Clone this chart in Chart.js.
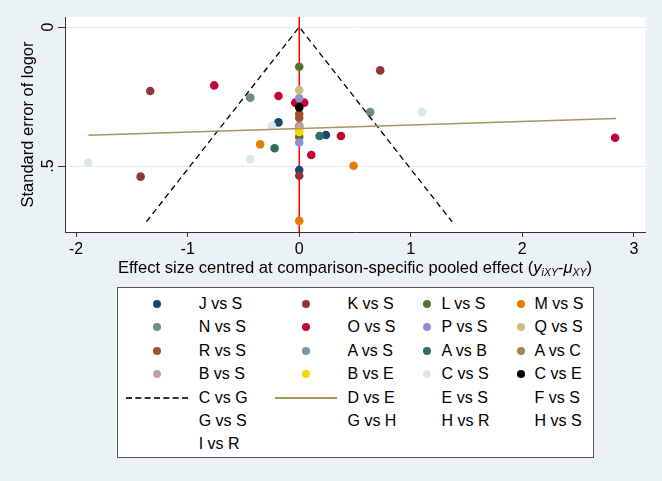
<!DOCTYPE html>
<html>
<head>
<meta charset="utf-8">
<title>Comparison-adjusted funnel plot</title>
<script src="https://cdn.jsdelivr.net/npm/chart.js@4.4.1/dist/chart.umd.min.js"></script>
<style>
  html, body { margin: 0; padding: 0; background: #eaf2f3; }
  #wrap { position: relative; width: 662px; height: 481px; background: #eaf2f3; font-family: "Liberation Sans", Arial, sans-serif; }
  #wrap canvas { position: absolute; left: 0; top: 0; }
  #legend { position: absolute; left: 117px; top: 287px; width: 477px; height: 171px; background: #fff; border: 1px solid #555; box-sizing: border-box; }
  .lab { position: absolute; font-size: 16px; line-height: 18px; color: #000; white-space: nowrap; }
  .dot { position: absolute; width: 8px; height: 8px; border-radius: 50%; }
  .key { position: absolute; height: 0; }
</style>
</head>
<body>
<div id="wrap">
  <canvas id="chartFunnel" width="662" height="481"></canvas>
  <div id="legend"></div>
</div>
<script>
"use strict";

var FONT = "'Liberation Sans', Arial, sans-serif";

// axis ticks / limits
var xTicks = [-2, -1, 0, 1, 2, 3];
var yTicks = [0, 0.5];
var xMin = -2.1, xMax = 3.1;
var seMin = -0.036, seMax = 0.737;

// points: [effect centred, standard error]
var ptsJS = [[-0.186, 0.343], [0.239, 0.388], [0, 0.514]];
var ptsKS = [[-1.336, 0.230], [0.726, 0.156], [0, 0.535], [-1.422, 0.538]];
var ptsLS = [[0, 0.143], [0, 0.395]];
var ptsMS = [[-0.350, 0.422], [0.487, 0.499], [0, 0.697]];
var ptsNS = [[-0.439, 0.254], [0.636, 0.306]];
var ptsOS = [[-0.762, 0.210], [-0.186, 0.248], [-0.036, 0.272], [0.045, 0.272], [0.374, 0.392], [0.108, 0.460], [2.832, 0.398]];
var ptsPS = [[0, 0.256], [0, 0.415]];
var ptsQS = [[0, 0.227]];
var ptsRS = [[0, 0.313], [0, 0.327]];
var ptsAS = [[0, 0.355]];
var ptsAB = [[0.182, 0.392], [-0.221, 0.436]];
var ptsAC = [[0, 0.365]];
var ptsBS = [[0, 0.360]];
var ptsBE = [[0, 0.377]];
var ptsCS = [[-0.245, 0.355], [-0.439, 0.475], [-1.891, 0.487], [1.100, 0.306]];
var ptsCE = [[0, 0.289]];

// pseudo 95% limits and fitted line
var funnelX = [-1.37, 0, 1.37];
var funnelSE = [0.70, 0, 0.70];
var fitX = [-1.89, 2.84];
var fitSE = [0.389, 0.329];

var names = ["J vs S", "K vs S", "L vs S", "M vs S", "N vs S", "O vs S", "P vs S", "Q vs S",
  "R vs S", "A vs S", "A vs B", "A vs C", "B vs S", "B vs E", "C vs S", "C vs E",
  "C vs G", "D vs E", "E vs S", "F vs S", "G vs S", "G vs H", "H vs R", "H vs S", "I vs R"];
var series = [ptsJS, ptsKS, ptsLS, ptsMS, ptsNS, ptsOS, ptsPS, ptsQS,
  ptsRS, ptsAS, ptsAB, ptsAC, ptsBS, ptsBE, ptsCS, ptsCE];
var colors = ["#1a476f", "#90353b", "#55752f", "#e37e00", "#6e8e84", "#c10534", "#938dd2", "#cac27e",
  "#a0522d", "#7b92a8", "#2d6d66", "#9c8847", "#bfa19c", "#ffd200", "#d9e6eb", "#000000"];
var FIT_COLOR = "#a8955a";

function toXY(xs, ys) {
  return xs.map(function (x, i) { return { x: x, y: ys[i] }; });
}

var datasets = [];
datasets.push({
  label: "zero", data: [{ x: 0, y: seMin }, { x: 0, y: seMax }],
  showLine: true, borderColor: "#ff0000", borderWidth: 1.5, pointRadius: 0, order: 100
});
series.forEach(function (pts, i) {
  datasets.push({
    label: names[i],
    data: pts.map(function (p) { return { x: p[0], y: p[1] }; }),
    backgroundColor: colors[i], borderWidth: 0, pointRadius: 4.3, order: 50 - i
  });
});
datasets.push({
  label: names[16], data: toXY(funnelX, funnelSE),
  showLine: true, borderColor: "#000", borderWidth: 1.3, borderDash: [6, 4], pointRadius: 0, order: 2
});
datasets.push({
  label: names[17], data: toXY(fitX, fitSE),
  showLine: true, borderColor: FIT_COLOR, borderWidth: 1.5, pointRadius: 0, order: 1
});

// white plot region
var plotBg = {
  id: "plotBg",
  beforeDraw: function (chart) {
    var a = chart.chartArea, ctx = chart.ctx;
    ctx.save();
    ctx.fillStyle = "#fff";
    ctx.fillRect(a.left, a.top, a.right - a.left, a.bottom - a.top);
    ctx.restore();
  }
};

// x title with subscripts
var xTitleParts = [
  { t: "Effect size centred at comparison-specific pooled effect (", f: "16.6px", dy: 0 },
  { t: "y", f: "italic 16.6px", dy: 0 },
  { t: "iXY", f: "italic 10.5px", dy: 3 },
  { t: "-", f: "16.6px", dy: 0 },
  { t: "\u03bc", f: "italic 16.6px", dy: 0 },
  { t: "XY", f: "italic 10.5px", dy: 3 },
  { t: ")", f: "16.6px", dy: 0 }
];
var xTitle = {
  id: "xTitle",
  afterDraw: function (chart) {
    var ctx = chart.ctx, a = chart.chartArea;
    ctx.save();
    ctx.fillStyle = "#000";
    ctx.textBaseline = "alphabetic";
    var total = 0;
    xTitleParts.forEach(function (p) { ctx.font = p.f + " " + FONT; p.w = ctx.measureText(p.t).width; total += p.w; });
    var x = (a.left + a.right) / 2 - total / 2;
    var base = a.bottom + 41;
    xTitleParts.forEach(function (p) {
      ctx.font = p.f + " " + FONT;
      ctx.fillText(p.t, x, base + p.dy);
      x += p.w;
    });
    ctx.restore();
  }
};

new Chart(document.getElementById("chartFunnel"), {
  type: "scatter",
  data: { datasets: datasets },
  options: {
    responsive: false, animation: false,
    layout: { padding: { top: 17, right: 17, bottom: 196, left: 0 } },
    plugins: { legend: { display: false }, tooltip: { enabled: false } },
    scales: {
      x: {
        type: "linear", min: xMin, max: xMax,
        afterBuildTicks: function (s) { s.ticks = xTicks.map(function (v) { return { value: v }; }); },
        afterFit: function (s) { s.height = 53; },
        grid: { drawOnChartArea: false, drawTicks: true, tickLength: 5, tickColor: "#333", tickWidth: 1 },
        border: { color: "#333", width: 1 },
        ticks: { color: "#000", font: { size: 16, family: FONT }, padding: 3, maxRotation: 0, minRotation: 0 }
      },
      y: {
        type: "linear", reverse: true, min: seMin, max: seMax,
        afterBuildTicks: function (s) { s.ticks = yTicks.map(function (v) { return { value: v }; }); },
        afterFit: function (s) { s.width = 65; },
        grid: { color: "#e4eef0", lineWidth: 1, drawTicks: true, tickLength: 7, tickColor: "#333", tickWidth: 1 },
        border: { color: "#333", width: 1 },
        ticks: {
          color: "#000", font: { size: 16, family: FONT }, padding: 3,
          minRotation: 90, maxRotation: 90, crossAlign: "center",
          callback: function (v) { return v === 0 ? "0" : String(v).replace(/^0/, ""); }
        },
        title: {
          display: true, text: "Standard error of logor", color: "#000",
          font: { size: 16.5, family: FONT }, padding: { top: 19, bottom: 0 }
        }
      }
    }
  },
  plugins: [plotBg, xTitle]
});

// legend: 4 columns, row-major, positions relative to the legend box
var symX = [38.5, 188, 309, 402.6];
var labX = [80.7, 229.5, 323.6, 416.6];
var rowY0 = 15.7, rowStep = 23.45;
var legend = document.getElementById("legend");
names.forEach(function (name, i) {
  var col = i % 4, row = Math.floor(i / 4);
  var cy = rowY0 + row * rowStep;
  var lab = document.createElement("div");
  lab.className = "lab";
  lab.textContent = name;
  lab.style.left = labX[col] + "px";
  lab.style.top = (cy - 9) + "px";
  legend.appendChild(lab);
  if (i < series.length) {
    var d = document.createElement("div");
    d.className = "dot";
    d.style.background = colors[i];
    d.style.left = (symX[col] - 4) + "px";
    d.style.top = (cy - 4) + "px";
    legend.appendChild(d);
  } else if (i === 16) {
    var k = document.createElement("div");
    k.className = "key";
    k.style.left = "8px"; k.style.width = "62px"; k.style.top = (cy - 1) + "px";
    k.style.borderTop = "2px dashed #333";
    legend.appendChild(k);
  } else if (i === 17) {
    var k2 = document.createElement("div");
    k2.className = "key";
    k2.style.left = "157px"; k2.style.width = "62px"; k2.style.top = (cy - 1) + "px";
    k2.style.borderTop = "2px solid " + FIT_COLOR;
    legend.appendChild(k2);
  }
});
</script>
</body>
</html>
